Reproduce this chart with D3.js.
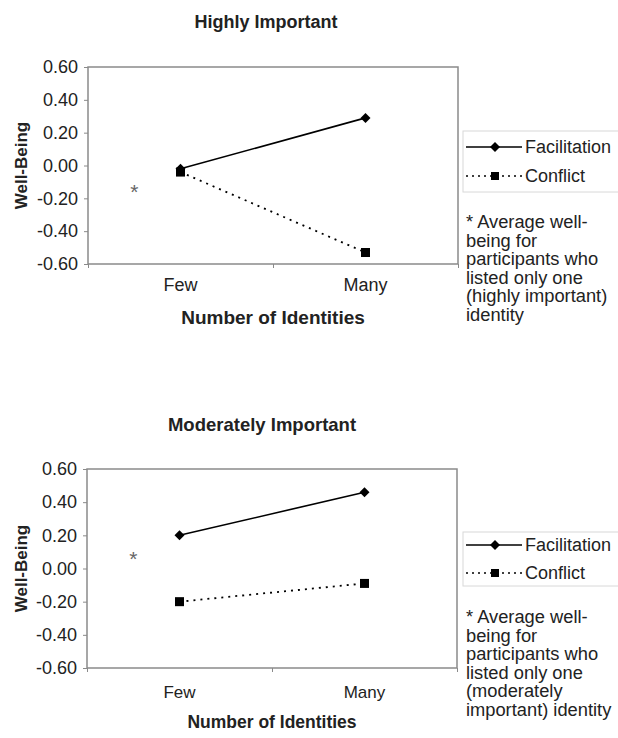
<!DOCTYPE html>
<html>
<head>
  <meta http-equiv="Content-Type" content="text/html;charset=utf-8" />
  <style type="text/css">
    body { margin: 0; background: #fff; }
    text { font-family: "Liberation Sans", Arial, Helvetica, sans-serif; fill: #222; }
  </style>
</head>
<body>
  <div id="svgContainer"></div>
  <script src="https://d3js.org/d3.v7.min.js"></script>
  <script type="text/javascript">
    // chart values
    var categories = ["Few", "Many"];
    var yTicks = [0.6, 0.4, 0.2, 0, -0.2, -0.4, -0.6];
    var seriesNames = ["Facilitation", "Conflict"];

    var highFacilitation = [-0.02, 0.29];
    var highConflict = [-0.04, -0.53];
    var highSingle = -0.14;

    var modFacilitation = [0.20, 0.46];
    var modConflict = [-0.20, -0.09];
    var modSingle = 0.08;

    var highNote = ["* Average well-", "being for", "participants who", "listed only one", "(highly important)", "identity"];
    var modNote = ["* Average well-", "being for", "participants who", "listed only one", "(moderately", "important) identity"];

    var w = 618, h = 738;

    var svg = d3.select("#svgContainer")
      .append("svg")
      .attr("width", w)
      .attr("height", h);

    // square turned 45 degrees, as in the reference markers
    var diamond = d3.symbol().type(d3.symbolSquare).size(50);

    function drawPanel(cfg) {
      var g = svg.append("g");

      // index scale: Few = 0, Many = 1, single-identity mark sits at -0.25
      var x = d3.scaleLinear().domain([-0.5, 1.5]).range([cfg.left, cfg.right]);
      var y = d3.scaleLinear().domain([-0.6, 0.6]).range([cfg.bottom, cfg.top]);

      g.append("text")
        .attr("x", cfg.titleX).attr("y", cfg.titleY)
        .attr("text-anchor", "middle")
        .attr("dominant-baseline", "central")
        .style("font-weight", "bold").style("font-size", cfg.titleSize + "px")
        .text(cfg.title);

      // plot frame
      g.append("rect")
        .attr("x", cfg.left).attr("y", cfg.top)
        .attr("width", cfg.right - cfg.left).attr("height", cfg.bottom - cfg.top)
        .attr("fill", "none").attr("stroke", "#8a8a8a").attr("stroke-width", 1.5);

      var yAxis = d3.axisLeft(y)
        .tickValues(yTicks)
        .tickSize(4)
        .tickFormat(function (d) { return d.toFixed(2); });
      var ya = g.append("g")
        .attr("transform", "translate(" + cfg.left + ",0)")
        .call(yAxis);
      ya.select(".domain").remove();
      ya.selectAll("line").attr("stroke", "#8a8a8a");
      ya.selectAll("text")
        .attr("x", -10)
        .style("font-size", "18px")
        .style("font-family", "'Liberation Sans', Arial, sans-serif")
        .attr("fill", "#222");

      var xAxis = d3.axisBottom(x).tickValues([-0.5, 0.5, 1.5]).tickSize(4).tickFormat("");
      var xa = g.append("g")
        .attr("transform", "translate(0," + cfg.bottom + ")")
        .call(xAxis);
      xa.select(".domain").remove();
      xa.selectAll("line").attr("stroke", "#8a8a8a");

      g.selectAll(".cat")
        .data(categories)
        .enter().append("text")
        .attr("x", function (d, i) { return x(i); })
        .attr("y", cfg.catY)
        .attr("text-anchor", "middle")
        .attr("dominant-baseline", "central")
        .style("font-size", cfg.catSize + "px")
        .text(function (d) { return d; });

      g.append("text")
        .attr("x", cfg.axisTitleX).attr("y", cfg.axisTitleY)
        .attr("text-anchor", "middle")
        .attr("dominant-baseline", "central")
        .style("font-weight", "bold").style("font-size", cfg.axisTitleSize + "px")
        .text("Number of Identities");

      g.append("text")
        .attr("transform", "translate(21," + ((cfg.top + cfg.bottom) / 2) + ") rotate(-90)")
        .attr("text-anchor", "middle")
        .attr("dominant-baseline", "central")
        .style("font-weight", "bold").style("font-size", "17px")
        .text("Well-Being");

      var line = d3.line()
        .x(function (d, i) { return x(i); })
        .y(function (d) { return y(d); });

      g.append("path")
        .attr("d", line(cfg.facilitation))
        .attr("fill", "none").attr("stroke", "#000").attr("stroke-width", 1.6);
      g.append("path")
        .attr("d", line(cfg.conflict))
        .attr("fill", "none").attr("stroke", "#000").attr("stroke-width", 1.8)
        .attr("stroke-dasharray", "2 5");

      g.selectAll(".fac")
        .data(cfg.facilitation)
        .enter().append("path")
        .attr("d", diamond)
        .attr("transform", function (d, i) { return "translate(" + x(i) + "," + y(d) + ") rotate(45)"; })
        .attr("fill", "#000");

      g.selectAll(".con")
        .data(cfg.conflict)
        .enter().append("rect")
        .attr("x", function (d, i) { return x(i) - 4.5; })
        .attr("y", function (d) { return y(d) - 4.5; })
        .attr("width", 9).attr("height", 9)
        .attr("fill", "#000");

      // single identity average
      g.append("text")
        .attr("x", x(-0.25)).attr("y", y(cfg.single) + 11)
        .attr("text-anchor", "middle")
        .style("font-size", "21px")
        .style("fill", "#666")
        .text("*");

      // legend
      var lg = g.append("g");
      lg.append("rect")
        .attr("x", 463).attr("y", cfg.legendTop)
        .attr("width", 170).attr("height", cfg.legendBottom - cfg.legendTop)
        .attr("fill", "none").attr("stroke", "#d8d8d8").attr("stroke-width", 1);

      var ly = [cfg.legendY1, cfg.legendY2];
      seriesNames.forEach(function (name, i) {
        lg.append("line")
          .attr("x1", 466).attr("x2", 522)
          .attr("y1", ly[i]).attr("y2", ly[i])
          .attr("stroke", "#000")
          .attr("stroke-width", i === 0 ? 1.5 : 1.6)
          .attr("stroke-dasharray", i === 0 ? null : "2 4");
        if (i === 0) {
          lg.append("path").attr("d", diamond)
            .attr("transform", "translate(495," + ly[i] + ") rotate(45)")
            .attr("fill", "#000");
        } else {
          lg.append("rect")
            .attr("x", 491).attr("y", ly[i] - 4).attr("width", 8).attr("height", 8)
            .attr("fill", "#000");
        }
        lg.append("text")
          .attr("x", 525).attr("y", ly[i])
          .attr("dominant-baseline", "central")
          .style("font-size", "18px")
          .text(name);
      });

      // footnote as one multi-line text block
      g.append("text")
        .attr("x", 466)
        .attr("y", cfg.noteY)
        .style("font-size", "18.3px")
        .selectAll("tspan")
        .data(cfg.note)
        .enter().append("tspan")
        .attr("x", 466)
        .attr("dy", function (d, i) { return i === 0 ? 0 : 18.6; })
        .text(function (d) { return d; });
    }

    drawPanel({
      title: "Highly Important", titleX: 266, titleY: 22, titleSize: 18,
      left: 88, right: 458, top: 67, bottom: 264,
      catY: 285, catSize: 18,
      axisTitleX: 273, axisTitleY: 317, axisTitleSize: 19,
      facilitation: highFacilitation, conflict: highConflict, single: highSingle,
      legendTop: 131, legendBottom: 192, legendY1: 147, legendY2: 176,
      note: highNote, noteY: 228
    });

    drawPanel({
      title: "Moderately Important", titleX: 262, titleY: 424, titleSize: 18.5,
      left: 87, right: 457, top: 469, bottom: 668,
      catY: 692, catSize: 17,
      axisTitleX: 272, axisTitleY: 722, axisTitleSize: 17.5,
      facilitation: modFacilitation, conflict: modConflict, single: modSingle,
      legendTop: 532, legendBottom: 586, legendY1: 545, legendY2: 573,
      note: modNote, noteY: 623
    });
  </script>
</body>
</html>
